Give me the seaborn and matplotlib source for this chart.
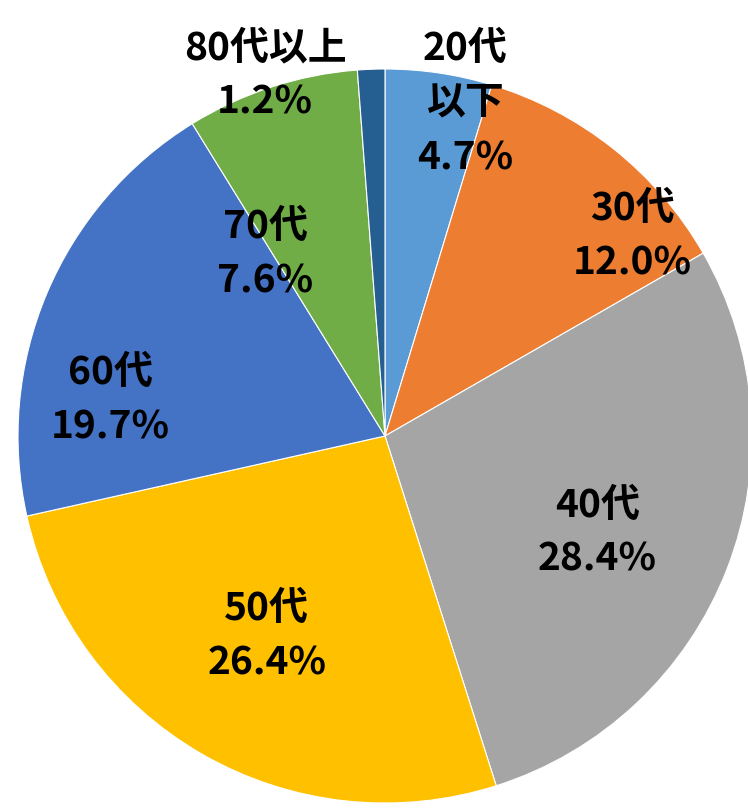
import matplotlib
matplotlib.use("Agg")
import matplotlib.pyplot as plt
import seaborn as sns

# Data
categories = ["20代以下", "30代", "40代", "50代", "60代", "70代", "80代以上"]
shares = [4.7, 12.0, 28.4, 26.4, 19.7, 7.6, 1.2]
label_texts = ["20代\n以下\n4.7%", "30代\n12.0%", "40代\n28.4%", "50代\n26.4%",
               "60代\n19.7%", "70代\n7.6%", "80代以上\n1.2%"]
colors = ["#5B9BD5", "#ED7D31", "#A5A5A5", "#FFC000", "#4472C4", "#70AD47", "#255E91"]

# Layout (label anchor positions, in pie-radius units)
label_pos = [(0.218, 0.907), (0.673, 0.545), (0.578, -0.262), (-0.322, -0.545),
             (-0.749, 0.098), (-0.327, 0.496), (-0.327, 0.984)]

sns.set_theme(style="white")
plt.rcParams["font.family"] = ["Noto Sans CJK JP", "DejaVu Sans"]

fig = plt.figure(figsize=(7.48, 8.08), dpi=100)
ax = fig.add_axes([18 / 748, 5 / 808, 734 / 748, 734 / 808])
ax.pie(shares, colors=sns.color_palette(colors), startangle=90, counterclock=False,
       radius=1.0, wedgeprops=dict(edgecolor="white", linewidth=0.8))
ax.set_xlim(-1, 1)
ax.set_ylim(-1, 1)
ax.set_aspect("auto")
ax.axis("off")

for txt, (x, y) in zip(label_texts, label_pos):
    ax.text(x, y, txt, ha="center", va="center", multialignment="center",
            fontsize=28, fontweight="bold", color="black", linespacing=1.5,
            clip_on=False)

fig.savefig("out.png", dpi=100, facecolor="white")
